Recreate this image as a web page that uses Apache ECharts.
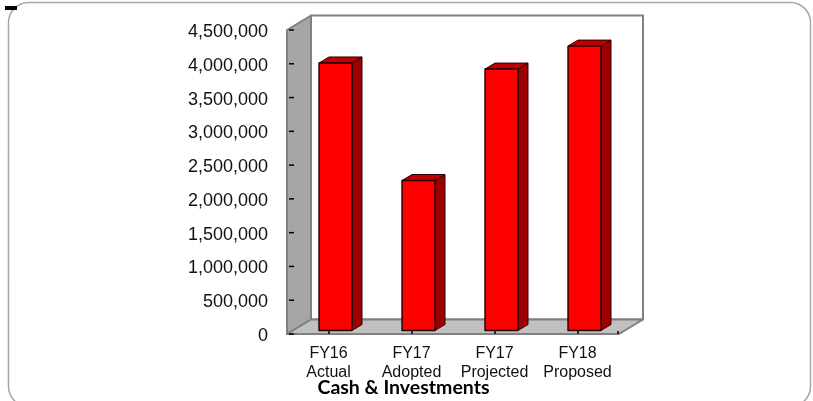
<!DOCTYPE html>
<html>
<head>
<meta charset="utf-8">
<style>
html,body{margin:0;padding:0;background:#fff;}
#chart{width:813px;height:401px;}
</style>
<script src="https://cdn.jsdelivr.net/npm/echarts@6/dist/echarts.min.js"></script>
</head>
<body>
<div id="chart"></div>
<script>
var categories = ['FY16\nActual', 'FY17\nAdopted', 'FY17\nProjected', 'FY18\nProposed'];
var cashValues = [3960000, 2220000, 3870000, 4210000];
var valueTicks = [0, 500000, 1000000, 1500000, 2000000, 2500000, 3000000, 3500000, 4000000, 4500000];
var chartTitle = 'Cash & Investments';

var chart = echarts.init(document.getElementById('chart'));

// 3D 偏移
var wallDx = 24, wallDy = -14.5;
var barDx = 10, barDy = -6;
var barInsetX = 7, barInsetY = -3.5;
var barWidth = 33;
var lineGrey = '#808080';

function poly(points, fill, stroke, width) {
    return {
        type: 'polygon',
        shape: {points: points},
        style: {fill: fill, stroke: stroke, lineWidth: width, lineJoin: 'round'}
    };
}

// 背景墙和地面
function renderWalls(params, api) {
    var c = params.coordSys;
    var l = c.x, r = c.x + c.width, t = c.y, b = c.y + c.height;
    return {
        type: 'group',
        children: [
            poly([[l + wallDx, t + wallDy], [r + wallDx, t + wallDy], [r + wallDx, b + wallDy], [l + wallDx, b + wallDy]], '#ffffff', lineGrey, 2),
            poly([[l, t], [l + wallDx, t + wallDy], [l + wallDx, b + wallDy], [l, b]], '#a6a6a6', lineGrey, 2),
            poly([[l, b], [l + wallDx, b + wallDy], [r + wallDx, b + wallDy], [r, b]], '#c0c0c0', lineGrey, 2),
            {type: 'line', shape: {x1: r - 1, y1: b, x2: r - 1, y2: b - 3}, style: {stroke: '#000', lineWidth: 1.5}}
        ]
    };
}

// 立体柱子
function renderBar(params, api) {
    var p = api.coord([api.value(0), api.value(1)]);
    var z = api.coord([api.value(0), 0]);
    var x0 = p[0] - barWidth / 2 + barInsetX, x1 = x0 + barWidth;
    var y0 = p[1] + barInsetY, y1 = z[1] + barInsetY;
    return {
        type: 'group',
        children: [
            poly([[x1, y0], [x1 + barDx, y0 + barDy], [x1 + barDx, y1 + barDy], [x1, y1]], '#9c0000', '#300000', 1),
            poly([[x0, y0], [x0 + barDx, y0 + barDy], [x1 + barDx, y0 + barDy], [x1, y0]], '#c00000', '#300000', 1),
            poly([[x0, y0], [x1, y0], [x1, y1], [x0, y1]], '#ff0000', '#200000', 1.4)
        ]
    };
}

var option = {
    animation: false,
    backgroundColor: '#ffffff',
    textStyle: {fontFamily: 'Liberation Sans'},
    grid: {left: 287, right: 194, top: 30, bottom: 67},
    xAxis: {
        type: 'category',
        data: categories,
        axisLine: {show: false},
        axisTick: {show: true, alignWithLabel: true, inside: true, length: 3, lineStyle: {color: '#000', width: 1.5}},
        axisLabel: {color: '#111', fontSize: 16, lineHeight: 19, margin: 10, interval: 0, hideOverlap: false, fontFamily: 'Liberation Sans'},
        z: 10
    },
    yAxis: {
        type: 'value',
        min: valueTicks[0],
        max: valueTicks[valueTicks.length - 1],
        interval: valueTicks[1] - valueTicks[0],
        splitLine: {show: false},
        axisLine: {show: false},
        axisTick: {show: false},
        axisLabel: {
            color: '#111', fontSize: 18, margin: 19, verticalAlign: 'top', lineHeight: 4, fontFamily: 'Liberation Sans',
            formatter: function (v) { return v.toLocaleString('en-US'); }
        }
    },
    series: [
        {type: 'custom', renderItem: renderWalls, data: [[0, 0]], silent: true, z: 1},
        {
            // 墙上的刻度
            type: 'custom', z: 3, silent: true,
            data: valueTicks.map(function (v) { return [0, v]; }),
            renderItem: function (params, api) {
                var y = api.coord([0, api.value(1)])[1];
                var x = params.coordSys.x;
                return {type: 'line', shape: {x1: x + 2, y1: y, x2: x + 7, y2: y}, style: {stroke: '#000', lineWidth: 1.5}};
            }
        },
        {
            type: 'custom', renderItem: renderBar, z: 5,
            encode: {x: 0, y: 1},
            data: cashValues.map(function (v, i) { return [i, v]; })
        }
    ],
    graphic: [
        {type: 'rect', z: 20, shape: {x: 8.5, y: 2.5, width: 802, height: 404, r: 20}, style: {fill: 'none', stroke: '#a6a6a6', lineWidth: 1.5}},
        {type: 'rect', z: 21, shape: {x: 5, y: 6, width: 12, height: 4}, style: {fill: '#000'}},
        {type: 'text', z: 21, style: {x: 403.5, y: 388, text: chartTitle, fill: '#000', font: 'bold 19.5px Lato', align: 'center', verticalAlign: 'middle'}}
    ]
};
chart.setOption(option);
</script>
</body>
</html>
